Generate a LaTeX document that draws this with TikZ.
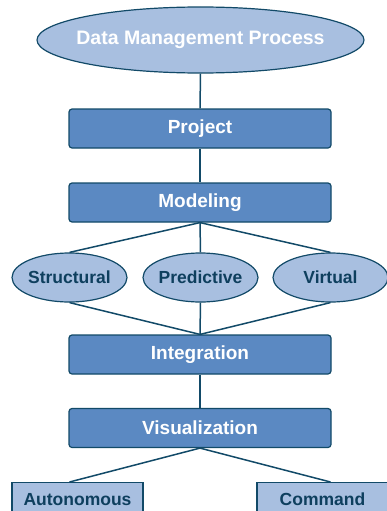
\documentclass[tikz,border=0pt]{standalone}
\usepackage{fontspec}
\setmainfont{Liberation Sans}
\usetikzlibrary{shapes.geometric}
\definecolor{dark}{HTML}{5B89C2}
\definecolor{light}{HTML}{A8BFE0}
\definecolor{edge}{HTML}{124A68}
\definecolor{navy}{HTML}{0E3F5E}
\begin{document}
\begin{tikzpicture}[x=1pt,y=-1pt,
  conn/.style={draw=edge,line width=1.5pt},
  darkbox/.style={draw=edge,line width=1.2pt,fill=dark,rounded corners=3pt,minimum width=262pt,minimum height=39pt,text=white,font=\bfseries\fontsize{19}{22}\selectfont},
  lightell/.style={ellipse,draw=edge,line width=1.2pt,fill=light,minimum width=115pt,minimum height=49pt,inner sep=0pt,inner xsep=-6pt,text=navy,font=\bfseries\fontsize{17.5}{20}\selectfont},
  lightbox/.style={draw=edge,line width=1.2pt,fill=light,minimum width=131pt,minimum height=33pt,text=navy,font=\bfseries\fontsize{17.5}{20}\selectfont}]
\useasboundingbox (0,0) rectangle (387,511);
\begin{scope}
\clip (0,0) rectangle (387,511);
\node[ellipse,draw=edge,line width=1.2pt,fill=light,minimum width=327pt,minimum height=66pt,inner sep=0pt,inner xsep=-20pt,text=white,font=\bfseries\fontsize{19.5}{22}\selectfont] (dmp) at (200.5,40) {Data Management Process};
\node[darkbox] (proj) at (200,128.5) {Project};
\node[darkbox] (model) at (200,202.5) {Modeling};
\node[lightell] (struct) at (69.5,277.5) {Structural};
\node[lightell] (pred) at (200.5,277.5) {Predictive};
\node[lightell] (virt) at (330.5,277.5) {Virtual};
\node[darkbox] (integ) at (200,354.5) {Integration};
\node[darkbox] (visu) at (200,428) {Visualization};
\node[lightbox,anchor=north] (auto) at (77.5,482) {Autonomous};
\node[lightbox,anchor=north] (cmd) at (322.5,482) {Command};
\draw[conn] (dmp.south) -- (proj.north);
\draw[conn] (proj.south) -- (model.north);
\draw[conn] (model.south) -- (struct.north);
\draw[conn] (model.south) -- (pred.north);
\draw[conn] (model.south) -- (virt.north);
\draw[conn] (struct.south) -- (integ.north);
\draw[conn] (pred.south) -- (integ.north);
\draw[conn] (virt.south) -- (integ.north);
\draw[conn] (integ.south) -- (visu.north);
\draw[conn] (visu.south) -- (auto.north -| struct.center);
\draw[conn] (visu.south) -- (cmd.north -| virt.center);
\end{scope}
\end{tikzpicture}
\end{document}
